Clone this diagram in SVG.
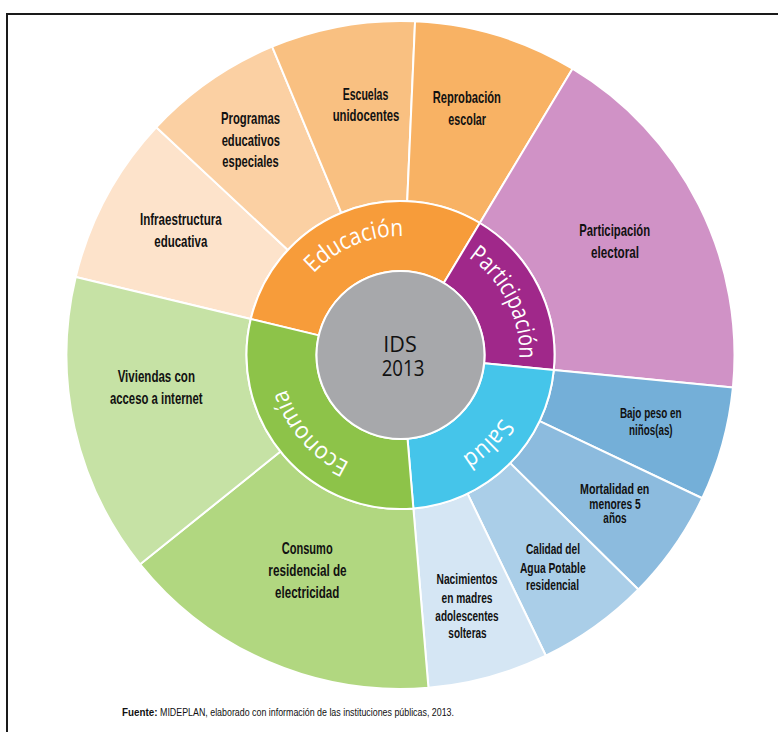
<svg xmlns="http://www.w3.org/2000/svg" xmlns:xlink="http://www.w3.org/1999/xlink" width="778" height="732" viewBox="0 0 778 732">
<style>
.seg{stroke:#fff;stroke-width:2;stroke-linejoin:round}
.lbl{font-family:"Liberation Sans Narrow","Liberation Sans",Arial,sans-serif;font-weight:bold;font-size:16.5px;text-anchor:middle;fill:#111}
.sm{font-size:14.5px}
.ring{font-family:"Open Sans","Noto Sans",sans-serif;font-size:24px;fill:#fff}
.core{font-family:"Open Sans","Noto Sans",sans-serif;font-size:22px;text-anchor:middle;fill:#111}
.foot{font-family:"Liberation Sans Narrow","Liberation Sans",Arial,sans-serif;font-size:10px;fill:#111}
</style>
<defs>
<path id="arcEdu" d="M284.79,327.22 A119,119 0 0 1 461.79,253.00"/>
<path id="arcPart" d="M461.79,253.00 A119,119 0 0 1 518.93,366.61"/>
<path id="arcSalud" d="M518.93,366.61 A119,119 0 0 1 410.46,473.58"/>
<path id="arcEco" d="M410.46,473.58 A119,119 0 0 1 284.79,327.22"/>
</defs>
<rect width="778" height="732" fill="#fff"/>
<path d="M7,732 V14 H778" fill="none" stroke="#1a1a1a" stroke-width="2"/>

<g id="infraestructura">
<path class="seg" fill="#FDE3CB" d="M75.73,277.03 A334,334 0 0 1 156.23,127.21 L287.87,249.97 A154,154 0 0 0 250.76,319.05 Z"/>
<text class="lbl" x="180.8" y="225" textLength="81.7" lengthAdjust="spacingAndGlyphs">Infraestructura</text>
<text class="lbl" x="180.8" y="246.7" textLength="53" lengthAdjust="spacingAndGlyphs">educativa</text>
</g>
<g id="programas">
<path class="seg" fill="#FBD0A3" d="M156.23,127.21 A334,334 0 0 1 272.14,46.65 L341.32,212.83 A154,154 0 0 0 287.87,249.97 Z"/>
<text class="lbl" x="250.5" y="124" textLength="59" lengthAdjust="spacingAndGlyphs">Programas</text>
<text class="lbl" x="250.8" y="145.7" textLength="58.3" lengthAdjust="spacingAndGlyphs">educativos</text>
<text class="lbl" x="250.5" y="167.3" textLength="56.3" lengthAdjust="spacingAndGlyphs">especiales</text>
</g>
<g id="escuelas">
<path class="seg" fill="#F9C081" d="M272.14,46.65 A334,334 0 0 1 415.07,21.32 L407.22,201.15 A154,154 0 0 0 341.32,212.83 Z"/>
<text class="lbl" x="365.5" y="100" textLength="45.7" lengthAdjust="spacingAndGlyphs">Escuelas</text>
<text class="lbl" x="366" y="121" textLength="66.7" lengthAdjust="spacingAndGlyphs">unidocentes</text>
</g>
<g id="reprobacion">
<path class="seg" fill="#F8B264" d="M415.07,21.32 A334,334 0 0 1 572.52,68.71 L479.82,223.00 A154,154 0 0 0 407.22,201.15 Z"/>
<text class="lbl" x="466.8" y="103.3" textLength="68.3" lengthAdjust="spacingAndGlyphs">Reprobación</text>
<text class="lbl" x="467.2" y="125" textLength="37.7" lengthAdjust="spacingAndGlyphs">escolar</text>
</g>
<g id="participacion-electoral">
<path class="seg" fill="#D092C6" d="M572.52,68.71 A334,334 0 0 1 732.91,387.59 L553.77,370.03 A154,154 0 0 0 479.82,223.00 Z"/>
<text class="lbl" x="614.7" y="235.5" textLength="70.7" lengthAdjust="spacingAndGlyphs">Participación</text>
<text class="lbl" x="615" y="257.5" textLength="48" lengthAdjust="spacingAndGlyphs">electoral</text>
</g>
<g id="bajo-peso">
<path class="seg" fill="#74AFD8" d="M732.91,387.59 A334,334 0 0 1 702.22,498.27 L539.61,421.06 A154,154 0 0 0 553.77,370.03 Z"/>
<text class="lbl sm" x="650.8" y="418" textLength="61.7" lengthAdjust="spacingAndGlyphs">Bajo peso en</text>
<text class="lbl sm" x="650.8" y="435" textLength="43.7" lengthAdjust="spacingAndGlyphs">niños(as)</text>
</g>
<g id="mortalidad">
<path class="seg" fill="#8CBBDE" d="M702.22,498.27 A334,334 0 0 1 638.32,589.52 L510.15,463.13 A154,154 0 0 0 539.61,421.06 Z"/>
<text class="lbl sm" x="614.7" y="494" textLength="69.3" lengthAdjust="spacingAndGlyphs">Mortalidad en</text>
<text class="lbl sm" x="615" y="508.5" textLength="51.3" lengthAdjust="spacingAndGlyphs">menores 5</text>
<text class="lbl sm" x="615" y="523" textLength="23.3" lengthAdjust="spacingAndGlyphs">años</text>
</g>
<g id="calidad-agua">
<path class="seg" fill="#AACEE8" d="M638.32,589.52 A334,334 0 0 1 545.87,655.71 L467.53,493.65 A154,154 0 0 0 510.15,463.13 Z"/>
<text class="lbl sm" x="553" y="554.3" textLength="54" lengthAdjust="spacingAndGlyphs">Calidad del</text>
<text class="lbl sm" x="552.8" y="572.5" textLength="65.7" lengthAdjust="spacingAndGlyphs">Agua Potable</text>
<text class="lbl sm" x="552.5" y="590" textLength="53" lengthAdjust="spacingAndGlyphs">residencial</text>
</g>
<g id="nacimientos">
<path class="seg" fill="#D5E6F4" d="M545.87,655.71 A334,334 0 0 1 428.45,687.83 L413.39,508.46 A154,154 0 0 0 467.53,493.65 Z"/>
<text class="lbl sm" x="467" y="584.3" textLength="61" lengthAdjust="spacingAndGlyphs">Nacimientos</text>
<text class="lbl sm" x="467" y="602.7" textLength="51" lengthAdjust="spacingAndGlyphs">en madres</text>
<text class="lbl sm" x="467" y="620.7" textLength="63.3" lengthAdjust="spacingAndGlyphs">adolescentes</text>
<text class="lbl sm" x="467.5" y="638.3" textLength="38.3" lengthAdjust="spacingAndGlyphs">solteras</text>
</g>
<g id="consumo">
<path class="seg" fill="#B1D780" d="M428.45,687.83 A334,334 0 0 1 140.15,564.28 L280.46,451.50 A154,154 0 0 0 413.39,508.46 Z"/>
<text class="lbl" x="307.2" y="554.3" textLength="51" lengthAdjust="spacingAndGlyphs">Consumo</text>
<text class="lbl" x="307.5" y="576" textLength="78.3" lengthAdjust="spacingAndGlyphs">residencial de</text>
<text class="lbl" x="307.2" y="598.3" textLength="64.3" lengthAdjust="spacingAndGlyphs">electricidad</text>
</g>
<g id="viviendas">
<path class="seg" fill="#C6E2A5" d="M140.15,564.28 A334,334 0 0 1 75.73,277.03 L250.76,319.05 A154,154 0 0 0 280.46,451.50 Z"/>
<text class="lbl" x="156.3" y="382.3" textLength="77.3" lengthAdjust="spacingAndGlyphs">Viviendas con</text>
<text class="lbl" x="156.3" y="404" textLength="92.7" lengthAdjust="spacingAndGlyphs">acceso a internet</text>
</g>

<g id="educacion">
<path class="seg" fill="#F79C3A" d="M250.76,319.05 A154,154 0 0 1 479.82,223.00 L443.76,283.00 A84,84 0 0 0 318.82,335.39 Z"/>
<text class="ring"><textPath xlink:href="#arcEdu" href="#arcEdu" startOffset="50%" text-anchor="middle" textLength="100" lengthAdjust="spacingAndGlyphs">Educación</textPath></text>
</g>
<g id="participacion">
<path class="seg" fill="#A0288A" d="M479.82,223.00 A154,154 0 0 1 553.77,370.03 L484.10,363.20 A84,84 0 0 0 443.76,283.00 Z"/>
<text class="ring"><textPath xlink:href="#arcPart" href="#arcPart" startOffset="50%" text-anchor="middle" textLength="118" lengthAdjust="spacingAndGlyphs">Participación</textPath></text>
</g>
<g id="salud">
<path class="seg" fill="#45C5EA" d="M553.77,370.03 A154,154 0 0 1 413.39,508.46 L407.53,438.71 A84,84 0 0 0 484.10,363.20 Z"/>
<text class="ring"><textPath xlink:href="#arcSalud" href="#arcSalud" startOffset="50%" text-anchor="middle" textLength="56" lengthAdjust="spacingAndGlyphs">Salud</textPath></text>
</g>
<g id="economia">
<path class="seg" fill="#8DC349" d="M413.39,508.46 A154,154 0 0 1 250.76,319.05 L318.82,335.39 A84,84 0 0 0 407.53,438.71 Z"/>
<text class="ring"><textPath xlink:href="#arcEco" href="#arcEco" startOffset="50%" text-anchor="middle" textLength="100" lengthAdjust="spacingAndGlyphs">Economía</textPath></text>
</g>

<g id="ids-2013">
<circle cx="400.5" cy="355" r="84" fill="#A7A8AB" stroke="#fff" stroke-width="2"/>
<text class="core" x="400" y="352" textLength="33.4" lengthAdjust="spacingAndGlyphs">IDS</text>
<text class="core" x="403" y="375.5" textLength="42.6" lengthAdjust="spacingAndGlyphs">2013</text>
</g>

<g id="connectors"></g>

<g id="fuente">
<text class="foot" x="122" y="716" font-weight="bold" textLength="35.5" lengthAdjust="spacingAndGlyphs">Fuente:</text>
<text class="foot" x="160" y="716" textLength="294" lengthAdjust="spacingAndGlyphs">MIDEPLAN, elaborado con información de las instituciones públicas, 2013.</text>
</g>
</svg>
